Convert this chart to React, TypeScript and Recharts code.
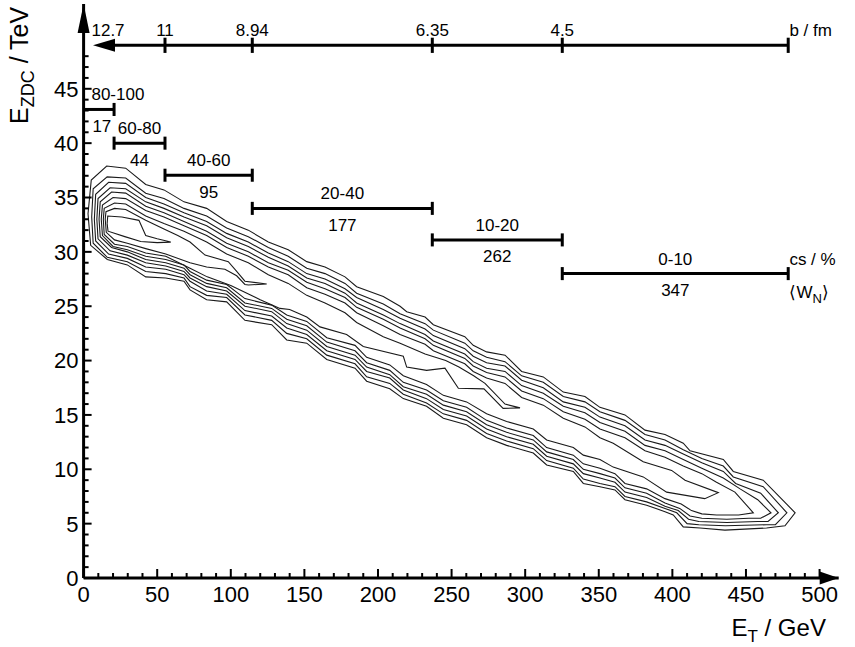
import React from "react";
import { LineChart, Line, XAxis, YAxis, ReferenceLine, ReferenceDot } from "recharts";

const FONT = "'Liberation Sans', Arial, Helvetica, sans-serif";

// ---- axis ticks ----
const xTickValues = [0, 10, 20, 30, 40, 50, 60, 70, 80, 90, 100, 110, 120, 130, 140, 150, 160, 170, 180, 190, 200, 210, 220, 230, 240, 250, 260, 270, 280, 290, 300, 310, 320, 330, 340, 350, 360, 370, 380, 390, 400, 410, 420, 430, 440, 450, 460, 470, 480, 490, 500];
const yTickValues = [0, 1, 2, 3, 4, 5, 6, 7, 8, 9, 10, 11, 12, 13, 14, 15, 16, 17, 18, 19, 20, 21, 22, 23, 24, 25, 26, 27, 28, 29, 30, 31, 32, 33, 34, 35, 36, 37, 38, 39, 40, 41, 42, 43, 44, 45, 46, 47, 48];

// ---- contour loops (E_T / GeV, E_ZDC / TeV) ----
const contour1: [number, number][] = [[3.0,33.5],[5.2,36.6],[15.7,37.9],[28.6,37.7],[42.2,36.2],[54.6,35.7],[68.2,34.6],[83.6,34.0],[97.2,32.8],[111.9,32.0],[125.5,30.9],[139,30.2],[151.6,29.1],[164,28.6],[177.6,27.7],[185.5,26.8],[203.6,25.9],[215,25.0],[219.5,24.5],[232,24.0],[237.6,23.3],[259,22.2],[264.7,21.4],[273.8,20.8],[286.3,20.5],[297.6,19.0],[312.3,18.5],[325.9,17.1],[340.6,16.7],[350.8,15.7],[367.8,15.0],[381.4,13.6],[395,13.2],[407.4,12.4],[412,11.7],[434.6,10.9],[441.4,9.8],[461.7,9.0],[483.4,6.0],[476.5,4.8],[464,4.6],[435.7,4.4],[418.8,4.6],[407.4,4.7],[400.6,5.8],[395,6.1],[382.5,6.7],[367.8,7.2],[361,8.1],[350.8,8.4],[339.5,8.7],[332.7,9.8],[314.6,10.4],[305.5,11.5],[287.4,12.2],[273.8,12.9],[260.2,14.1],[244.4,14.7],[233,15.8],[217.2,16.5],[208,17.4],[192.3,18.1],[184.4,19.3],[165.2,20.1],[151.6,21.6],[138,21.9],[127.8,23.3],[109.6,23.7],[97.2,25.4],[83.6,25.6],[72.3,26.5],[68.2,27.3],[55.8,27.6],[42.2,27.7],[29.7,28.8],[16.1,29.3],[4.8,30.6],[3.0,33.5]];
const contour2: [number, number][] = [[5.5,33.2],[6.5,35.8],[16,36.9],[28.6,36.8],[42.2,35.4],[54.6,34.9],[68.2,34.0],[83.6,33.3],[97.2,32.2],[111.9,31.4],[125.5,30.4],[139,29.6],[151.6,28.5],[164,28.0],[177.6,27.1],[185.5,26.2],[203.6,25.2],[215,24.3],[232,23.4],[237.6,22.8],[259,21.6],[264.7,20.9],[273.8,20.3],[286.3,19.9],[297.6,18.6],[312.3,18.0],[325.9,16.7],[340.6,16.2],[350.8,15.3],[367.8,14.5],[381.4,13.2],[395,12.7],[407.4,11.8],[420,11.0],[434.6,10.3],[441.4,9.3],[461.7,8.4],[477.8,6.0],[470,4.9],[464,4.9],[436,4.8],[418,4.9],[410,5.0],[403,6.0],[395,6.4],[382.5,7.0],[367.8,7.5],[361,8.4],[350.8,8.7],[339.5,9.1],[332.7,10.1],[314.6,10.8],[305.5,11.9],[287.4,12.6],[273.8,13.3],[260.2,14.5],[244.4,15.1],[233,16.1],[217.2,16.9],[208,17.9],[192.3,18.5],[184.4,19.7],[165.2,20.5],[151.6,22.0],[138,22.5],[127.8,23.7],[109.6,24.2],[97.2,25.8],[83.6,26.0],[72.3,26.8],[68.2,27.6],[55.8,28.0],[42.2,28.2],[29.7,29.1],[16.1,29.5],[6.5,30.8],[5.5,33.2]];
const contour3: [number, number][] = [[7.3,33.0],[8.2,35.3],[17,36.4],[28.6,36.3],[42.2,35.0],[54.6,34.4],[68.2,33.6],[83.6,32.8],[97.2,31.7],[111.9,30.9],[125.5,29.9],[139,29.1],[151.6,28.0],[164,27.5],[177.6,26.6],[185.5,25.8],[203.6,24.7],[215,23.9],[232,22.9],[237.6,22.3],[259,21.1],[264.7,20.4],[273.8,19.8],[286.3,19.5],[297.6,18.2],[312.3,17.5],[325.9,16.2],[340.6,15.7],[350.8,14.8],[367.8,14.0],[381.4,12.7],[395,12.2],[407.4,11.4],[420,10.6],[434.6,9.8],[443,8.7],[460,7.8],[472,6.0],[465,5.2],[458,5.2],[437,5.1],[418,5.2],[411,5.4],[404,6.2],[395,6.6],[382.5,7.4],[367.8,7.9],[361,8.8],[350.8,9.2],[339.5,9.6],[332.7,10.5],[314.6,11.2],[305.5,12.3],[287.4,13.0],[273.8,13.7],[260.2,14.9],[244.4,15.5],[233,16.5],[217.2,17.3],[208,18.4],[192.3,19.0],[184.4,20.1],[165.2,20.9],[151.6,22.4],[138,23.0],[127.8,24.1],[109.6,24.6],[97.2,26.1],[83.6,26.4],[72.3,27.3],[68.2,27.9],[55.8,28.4],[42.2,28.6],[29.7,29.4],[17,29.8],[8.2,31.0],[7.3,33.0]];
const contour4: [number, number][] = [[9.0,33.0],[9.8,34.9],[18,35.9],[28.6,35.8],[42.2,34.6],[54.6,34.0],[68.2,33.2],[83.6,32.4],[97.2,31.3],[111.9,30.5],[125.5,29.5],[139,28.7],[151.6,27.6],[164,27.1],[177.6,26.2],[185.5,25.3],[203.6,24.2],[215,23.4],[232,22.4],[237.6,21.8],[259,20.6],[264.7,19.9],[273.8,19.3],[286.3,19.0],[297.6,17.7],[312.3,17.0],[325.9,15.8],[340.6,15.2],[350.8,14.3],[367.8,13.5],[381.4,12.2],[395,11.7],[407.4,10.9],[420,10.1],[434.6,9.2],[446,8.2],[458,7.2],[467,6.0],[460,5.5],[452,5.5],[437,5.4],[420,5.5],[412,5.7],[405,6.4],[395,6.9],[382.5,7.8],[367.8,8.3],[361,9.2],[350.8,9.6],[339.5,10.0],[332.7,10.9],[314.6,11.6],[305.5,12.7],[287.4,13.4],[273.8,14.1],[260.2,15.3],[244.4,15.9],[233,16.9],[217.2,17.6],[208,18.7],[192.3,19.4],[184.4,20.5],[165.2,21.3],[151.6,22.8],[138,23.4],[127.8,24.5],[109.6,25.0],[97.2,26.4],[83.6,26.8],[72.3,27.6],[68.2,28.2],[55.8,28.7],[42.2,29.0],[29.7,29.7],[18,30.1],[9.8,31.2],[9.0,33.0]];
const contour5: [number, number][] = [[10.5,33.0],[11.3,34.6],[19,35.5],[28.6,35.4],[42.2,34.2],[54.6,33.6],[68.2,32.8],[83.6,31.9],[97.2,30.8],[111.9,30.0],[125.5,29.0],[139,28.3],[151.6,27.2],[164,26.6],[177.6,25.8],[185.5,24.9],[203.6,23.8],[215,23.0],[232,22.0],[237.6,21.4],[259,20.2],[264.7,19.5],[273.8,18.9],[286.3,18.5],[297.6,17.2],[312.3,16.5],[325.9,15.3],[340.6,14.6],[350.8,13.7],[367.8,12.9],[381.4,11.7],[395,11.1],[407.4,10.3],[420,9.6],[430,8.8],[442.5,7.9],[455,6.0],[445,5.8],[430,5.8],[420,5.9],[413,6.2],[406,6.8],[395,7.3],[382.5,8.2],[367.8,8.7],[361,9.6],[350.8,10.1],[339.5,10.5],[332.7,11.3],[314.6,12.0],[305.5,13.1],[287.4,13.8],[273.8,14.5],[260.2,15.7],[244.4,16.3],[233,17.3],[217.2,18.0],[208,19.1],[192.3,19.8],[184.4,20.9],[165.2,21.7],[151.6,23.2],[138,23.8],[127.8,24.8],[109.6,25.3],[97.2,26.7],[83.6,27.1],[72.3,27.9],[68.2,28.5],[55.8,29.0],[42.2,29.3],[29.7,30.0],[19,30.4],[11.3,31.4],[10.5,33.0]];
const contour6: [number, number][] = [[12.0,33.0],[12.8,34.3],[20,35.0],[28.6,34.9],[42.2,33.8],[54.6,33.2],[68.2,32.4],[83.6,31.5],[97.2,30.4],[111.9,29.6],[125.5,28.6],[139,27.9],[151.6,26.7],[164,26.1],[177.6,25.3],[185.5,24.4],[203.6,23.2],[215,22.4],[232,21.5],[237.6,20.9],[259,19.7],[264.7,19.0],[273.8,18.4],[286.3,17.9],[297.6,16.6],[312.3,15.9],[325.9,14.7],[340.6,13.9],[350.8,12.9],[359.8,12.4],[380.2,10.7],[399.5,9.9],[408.6,9.0],[431.2,7.85],[422,7.3],[396.1,7.9],[380.2,9.3],[359.8,10.2],[350.8,10.9],[339.5,11.3],[332.7,12.0],[314.6,12.7],[305.5,13.7],[287.4,14.4],[273.8,15.1],[260.2,16.2],[244.4,16.8],[233,17.8],[217.2,18.6],[208,19.6],[192.3,20.3],[184.4,21.4],[165.2,22.1],[151.6,23.6],[138,24.2],[127.8,25.1],[109.6,25.7],[97.2,27.0],[83.6,27.4],[72.3,28.2],[68.2,28.8],[55.8,29.3],[42.2,29.6],[29.7,30.2],[20,30.5],[12.8,31.5],[12.0,33.0]];
const contour7: [number, number][] = [[13.4,33.0],[14.0,34.0],[21,34.5],[28.6,34.4],[42.2,33.3],[54.6,32.6],[68.2,31.9],[83.6,30.9],[97.2,29.8],[111.9,29.0],[125.5,27.9],[139,27.1],[151.6,26.0],[164,25.3],[177.6,24.4],[185.5,23.5],[203.6,22.2],[215,21.6],[232,20.6],[246,20.0],[255,19.4],[265,18.6],[272.7,17.9],[286.3,16.0],[296.5,15.65],[285,15.6],[272,17.4],[254.6,17.45],[245.5,19.3],[233,19.1],[219.5,19.4],[217.2,20.4],[190,21.3],[178.7,22.4],[160.6,23.1],[151.6,24.0],[140,24.7],[133.4,24.8],[120,25.6],[100,26.9],[84,27.7],[72.3,28.5],[55.8,29.6],[42.2,29.9],[29.7,30.5],[21,30.7],[14.0,31.6],[13.4,33.0]];
const contour8: [number, number][] = [[14.7,33.0],[15.2,33.7],[21,34.0],[28.6,33.9],[42.2,32.9],[54.6,32.1],[64,31.5],[72.3,30.9],[82.5,29.7],[98.3,29.1],[104,28.2],[109.6,27.3],[124.4,27.05],[112,26.95],[109.6,27.0],[104,27.8],[96,28.4],[83.6,28.6],[72.3,29.0],[55.8,29.8],[42.2,30.3],[29.7,30.8],[21,31.1],[15.4,31.8],[14.7,33.0]];
const contour9: [number, number][] = [[16.0,32.6],[16.4,33.3],[26,33.2],[37.6,32.9],[42.2,31.5],[50,31.2],[59.2,30.9],[50,30.85],[38.8,30.95],[28,31.4],[16.6,31.9],[16.0,32.6]];
const contourLoops = [contour1, contour2, contour3, contour4, contour5, contour6, contour7, contour8, contour9];

// ---- centrality classes ----
const centralityClasses = ["80-100", "60-80", "40-60", "20-40", "10-20", "0-10"];
const centralityEdges = [0, 20.7, 55.3, 114.6, 236.9, 325.2, 478.7];
const centralityLevels = [43.1, 40.0, 37.05, 34.0, 31.1, 28.0];
const woundedNucleons = ["17", "44", "95", "177", "262", "347"];
const classLabelX = [23.3, 38.0, 85.0, 175.8, 281.0, 402.0];
const woundedLabelX = [12.4, 38.0, 85.0, 175.8, 281.0, 402.0];

// ---- impact parameter axis ----
const impactParameterLabels = ["12.7", "11", "8.94", "6.35", "4.5"];
const impactParameterLabelX = [16.6, 55.3, 114.6, 236.9, 325.2];
const impactParameterTickX = [55.3, 114.6, 236.9, 325.2, 478.7];
const impactAxisLevel = 49.0;
const impactAxisStart = 6.4;
const impactAxisEnd = 478.7;

const X_MAX = 513;
const Y_MAX = 52.8;

const toPoints = (loop: [number, number][]) => loop.map(([x, y]) => ({ x, y }));

function XTick(props: any) {
  const { x, y, payload } = props;
  const v = payload.value;
  const major = v % 50 === 0;
  return (
    <g>
      <line x1={x} x2={x} y1={y} y2={y - (major ? 9 : 5)} stroke="#000" strokeWidth={2} />
      {major && (
        <text x={x} y={y + 24} textAnchor="middle" fontSize={22} fontFamily={FONT} fill="#000">
          {v}
        </text>
      )}
    </g>
  );
}

function YTick(props: any) {
  const { x, y, payload } = props;
  const v = payload.value;
  const major = v % 5 === 0;
  return (
    <g>
      <line x1={x} x2={x + (major ? 8 : 5)} y1={y} y2={y} stroke="#000" strokeWidth={2} />
      {major && (
        <text x={x - 5} y={y} dy="0.36em" textAnchor="end" fontSize={22} fontFamily={FONT} fill="#000">
          {v}
        </text>
      )}
    </g>
  );
}

const textShape = (content: React.ReactNode, anchor: string = "middle", size: number = 17) => (p: any) => (
  <text x={p.cx} y={p.cy} dy="0.36em" textAnchor={anchor} fontSize={size} fontFamily={FONT} fill="#000">
    {content}
  </text>
);

const arrowRight = (p: any) => (
  <polygon points={`${p.cx},${p.cy} ${p.cx - 19},${p.cy - 6.5} ${p.cx - 19},${p.cy + 6.5}`} fill="#000" />
);
const arrowUp = (p: any) => (
  <polygon points={`${p.cx},${p.cy} ${p.cx - 6},${p.cy + 29} ${p.cx + 6},${p.cy + 29}`} fill="#000" />
);
const arrowLeft = (p: any) => (
  <polygon points={`${p.cx},${p.cy} ${p.cx + 22},${p.cy - 6.5} ${p.cx + 22},${p.cy + 6.5}`} fill="#000" />
);

const yTitle = (p: any) => (
  <text
    x={p.cx}
    y={p.cy}
    textAnchor="middle"
    fontSize={25}
    fontFamily={FONT}
    fill="#000"
    transform={`rotate(-90 ${p.cx} ${p.cy})`}
  >
    E<tspan dy={6} fontSize={18}>ZDC</tspan>
    <tspan dy={-6}> / TeV</tspan>
  </text>
);

const xTitle = (p: any) => (
  <text x={p.cx} y={p.cy} textAnchor="end" fontSize={24} fontFamily={FONT} fill="#000">
    E<tspan dy={6} fontSize={17}>T</tspan>
    <tspan dy={-6}> / GeV</tspan>
  </text>
);

const wnLabel = (p: any) => (
  <text x={p.cx} y={p.cy} dy="0.36em" textAnchor="start" fontSize={17} fontFamily={FONT} fill="#000">
    ⟨W<tspan dy={5} fontSize={13}>N</tspan>
    <tspan dy={-5}>⟩</tspan>
  </text>
);

export default function App() {
  const seg = (x1: number, y1: number, x2: number, y2: number, key: string) => (
    <ReferenceLine
      key={key}
      segment={[{ x: x1, y: y1 }, { x: x2, y: y2 }]}
      stroke="#000"
      strokeWidth={3}
      ifOverflow="visible"
    />
  );

  return (
    <div style={{ position: "absolute", left: 0, top: 0, width: 855, height: 647, background: "#fff" }}>
      <LineChart width={855} height={647} margin={{ top: 4, right: 16.3, bottom: 29, left: 13.6 }}>
        <XAxis
          type="number"
          dataKey="x"
          domain={[0, X_MAX]}
          ticks={xTickValues}
          interval={0}
          tickSize={0}
          tickMargin={0}
          tickLine={false}
          axisLine={{ stroke: "#000", strokeWidth: 3 }}
          tick={<XTick />}
          height={40}
          allowDataOverflow
        />
        <YAxis
          type="number"
          dataKey="y"
          domain={[0, Y_MAX]}
          ticks={yTickValues}
          interval={0}
          tickSize={0}
          tickMargin={0}
          tickLine={false}
          axisLine={{ stroke: "#000", strokeWidth: 3 }}
          tick={<YTick />}
          width={70}
          allowDataOverflow
        />
        {contourLoops.map((loop, i) => (
          <Line
            key={`c${i}`}
            data={toPoints(loop)}
            dataKey="y"
            type="linear"
            dot={false}
            activeDot={false}
            stroke="#1a1a1a"
            strokeWidth={1.1}
            isAnimationActive={false}
          />
        ))}

        {/* axis arrows */}
        <ReferenceDot x={X_MAX} y={0} r={0} ifOverflow="visible" shape={arrowRight} />
        <ReferenceDot x={0} y={Y_MAX} r={0} ifOverflow="visible" shape={arrowUp} />

        {/* impact-parameter axis */}
        {seg(impactAxisStart + 8, impactAxisLevel, impactAxisEnd, impactAxisLevel, "bax")}
        <ReferenceDot x={impactAxisStart} y={impactAxisLevel} r={0} ifOverflow="visible" shape={arrowLeft} />
        {impactParameterTickX.map((x, i) => seg(x, impactAxisLevel - 0.7, x, impactAxisLevel + 0.7, `bt${i}`))}
        {impactParameterLabels.map((t, i) => (
          <ReferenceDot key={`bl${i}`} x={impactParameterLabelX[i]} y={impactAxisLevel + 1.45} r={0} ifOverflow="visible" shape={textShape(t)} />
        ))}
        <ReferenceDot x={impactAxisEnd + 0.8} y={impactAxisLevel + 1.45} r={0} ifOverflow="visible" shape={textShape("b / fm", "start")} />

        {/* centrality bars */}
        {centralityClasses.map((c, i) => seg(centralityEdges[i], centralityLevels[i], centralityEdges[i + 1], centralityLevels[i], `cb${i}`))}
        {centralityClasses.map((c, i) =>
          i === 0 ? null : seg(centralityEdges[i], centralityLevels[i] - 0.6, centralityEdges[i], centralityLevels[i] + 0.6, `cl${i}`)
        )}
        {centralityClasses.map((c, i) =>
          seg(centralityEdges[i + 1], centralityLevels[i] - 0.6, centralityEdges[i + 1], centralityLevels[i] + 0.6, `cr${i}`)
        )}
        {centralityClasses.map((c, i) => (
          <ReferenceDot key={`ct${i}`} x={classLabelX[i]} y={centralityLevels[i] + 1.4} r={0} ifOverflow="visible" shape={textShape(c)} />
        ))}
        {woundedNucleons.map((w, i) => (
          <ReferenceDot key={`wt${i}`} x={woundedLabelX[i]} y={centralityLevels[i] - 1.5} r={0} ifOverflow="visible" shape={textShape(w)} />
        ))}
        <ReferenceDot x={impactAxisEnd + 0.8} y={centralityLevels[5] + 1.4} r={0} ifOverflow="visible" shape={textShape("cs / %", "start")} />
        <ReferenceDot x={impactAxisEnd + 0.8} y={centralityLevels[5] - 1.7} r={0} ifOverflow="visible" shape={wnLabel} />

        {/* axis titles */}
        <ReferenceDot x={-37.6} y={47.15} r={0} ifOverflow="visible" shape={yTitle} />
        <ReferenceDot x={504.3} y={-5.34} r={0} ifOverflow="visible" shape={xTitle} />
      </LineChart>
    </div>
  );
}
